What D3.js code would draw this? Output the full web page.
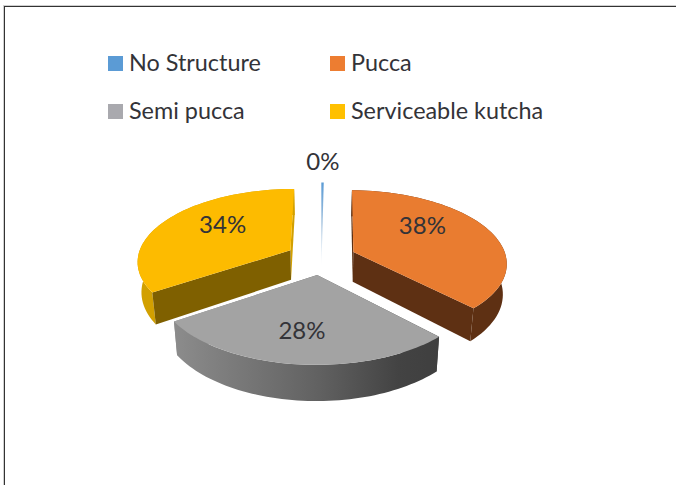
<!DOCTYPE html>
<html><head><meta charset="utf-8">
<script src="https://cdn.jsdelivr.net/npm/d3@7"></script>
<style>html,body{margin:0;padding:0;background:#fff}svg{display:block}text{font-family:Lato,sans-serif;fill:#333338}</style>
</head><body><svg id="c" width="676" height="485"></svg>
<script>
const categories = ["No Structure","Pucca","Semi pucca","Serviceable kutcha"];
const values = [0.3,37.5,27.8,34.4];
const swatchColors = ["#5b9bd5","#ed7d31","#a9a9ae","#ffc000"];
const topColors = ["#5b9bd5","#e97c30","#a3a3a3","#fdbb00"];
const wallColors = ["#5b9bd5","#5e3013","url(#grayRim)","#7f6000"];
const rimColors = ["#5b9bd5","#5e3013","url(#grayRim)","#d2a000"];
const labelRadii = [1.27,0.5,0.77,0.53];
const labelLifts = [10,16,10,10];

const W=676,H=485,cx=321,cy=258,R=153,k=72,p=0.14,depth=30,explode=0.23,zShrink=0.0007;
const svg=d3.select("#c");
const defs=svg.append("defs");
function grad(id,stops,x1,x2,y1,y2){
  const g=defs.append("linearGradient").attr("id",id).attr("gradientUnits","userSpaceOnUse")
    .attr("x1",x1).attr("x2",x2).attr("y1",y1).attr("y2",y2);
  stops.forEach(s=>g.append("stop").attr("offset",s[0]).attr("stop-color",s[1]));
}
grad("grayRim",[[0,"#8c8c8c"],[0.55,"#616161"],[0.85,"#434343"],[1,"#3f3f3f"]],174,438,0,0);
grad("blueFade",[[0,"#5b9bd5"],[0.5,"#a5c3de"],[1,"#ffffff"]],0,0,182,266);

// frame
svg.append("line").attr("x1",4).attr("x2",676).attr("y1",5.5).attr("y2",5.5).attr("stroke","#cfcfcf");
svg.append("line").attr("x1",3.5).attr("x2",3.5).attr("y1",5).attr("y2",485).attr("stroke","#cfcfcf");
svg.append("line").attr("x1",4).attr("x2",676).attr("y1",6.5).attr("y2",6.5).attr("stroke","#333333");
svg.append("line").attr("x1",4.5).attr("x2",4.5).attr("y1",6).attr("y2",485).attr("stroke","#333333");

// legend
const legendX=[108,330],legendY=[56,104];
categories.forEach((c,i)=>{
  const col=i%2,row=Math.floor(i/2);
  svg.append("rect").attr("x",legendX[col]).attr("y",legendY[row]).attr("width",15).attr("height",15).attr("fill",swatchColors[i]);
  svg.append("text").attr("x",legendX[col]+21).attr("y",legendY[row]+15).attr("font-size",23.4).text(c);
});

// projection: ground plane with perspective
function proj(u,v,z){const s=1/(1-p*v);return [cx+R*u*s*(1-z*zShrink),cy+k*v*s+z*s];}
const total=d3.sum(values);
const arcs=d3.pie().sort(null).value(d=>d)(values);
const line=d3.line();
function pieces(a){
  const mid=(a.startAngle+a.endAngle)/2;
  const ex=explode*Math.sin(mid),ey=-explode*Math.cos(mid);
  const pt=(th,r,z)=>proj(ex+r*Math.sin(th),ey-r*Math.cos(th),z);
  const ths=d3.range(0,61).map(i=>a.startAngle+(a.endAngle-a.startAngle)*i/60);
  const rim=z=>ths.map(t=>pt(t,1,z));
  return {pt,ths,rim,mid,ex,ey};
}
const order=[3,1,0,2];
order.forEach(i=>{
  const a=arcs[i],q=pieces(a),g=svg.append("g");
  const wall=th=>[q.pt(th,0,0),q.pt(th,1,0),q.pt(th,1,depth),q.pt(th,0,depth)];
  if(i===0){
    g.append("path").attr("d",line([q.pt(a.startAngle,1,0),q.pt(a.endAngle,1,0),q.pt(a.endAngle,0,depth),q.pt(a.startAngle,0,depth)])+"Z").attr("fill","url(#blueFade)");
    return;
  }
  g.append("path").attr("d",line(q.rim(0).concat(q.rim(depth).reverse()))+"Z").attr("fill",rimColors[i]);
  g.append("path").attr("d",line(wall(a.endAngle))+"Z").attr("fill",i===3?rimColors[i]:wallColors[i]);
  g.append("path").attr("d",line(wall(a.startAngle))+"Z").attr("fill",wallColors[i]);
  g.append("path").attr("d",line([q.pt(0,0,0)].concat(q.rim(0)))+"Z").attr("fill",topColors[i]);
});

// labels
const pct=d3.format(".0%");
arcs.forEach((a,i)=>{
  const q=pieces(a),r=labelRadii[i];
  const pos=proj(q.ex+r*Math.sin(q.mid),q.ey-r*Math.cos(q.mid),-labelLifts[i]);
  svg.append("text").attr("x",pos[0]).attr("y",pos[1]).attr("text-anchor","middle").attr("dominant-baseline","central")
    .attr("font-size",24).text(pct(values[i]/total));
});
</script></body></html>
